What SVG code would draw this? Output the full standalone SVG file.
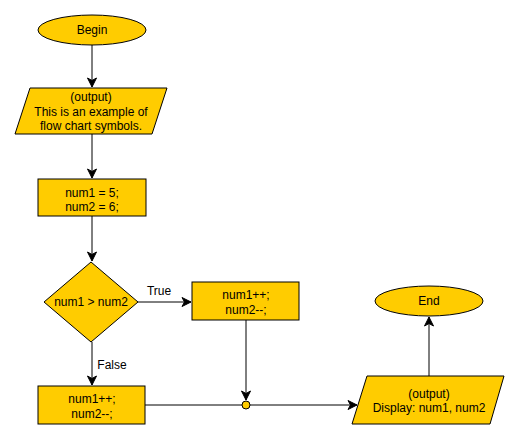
<svg xmlns="http://www.w3.org/2000/svg" width="520" height="440" viewBox="0 0 520 440">
<defs>
<marker id="arr" markerWidth="12" markerHeight="12" refX="10" refY="6" orient="auto" markerUnits="userSpaceOnUse">
<path d="M1,1.5 L10,6 L1,10.5 L3.5,6 Z" fill="#000" stroke="#000" stroke-width="1"/>
</marker>
</defs>
<style>
.s{fill:#ffcc00;stroke:#000;stroke-width:1}
.t{font-family:"Liberation Sans",Arial,sans-serif;font-size:12px;fill:#000;text-anchor:middle}
.c{fill:none;stroke:#000;stroke-width:1}
</style>
<rect width="520" height="440" fill="#fff"/>
<g id="connectors">
<path class="c" d="M92,45 V87" marker-end="url(#arr)"/>
<path class="c" d="M92,134 V178" marker-end="url(#arr)"/>
<path class="c" d="M92,216 V261" marker-end="url(#arr)"/>
<path class="c" d="M138,302 H191" marker-end="url(#arr)"/>
<path class="c" d="M92,342 V385" marker-end="url(#arr)"/>
<path class="c" d="M246,320 V400" marker-end="url(#arr)"/>
<path class="c" d="M145,405 H242"/>
<path class="c" d="M250,405 H357" marker-end="url(#arr)"/>
<path class="c" d="M429,376 V317" marker-end="url(#arr)"/>
<text class="t" x="159" y="295">True</text>
<text class="t" x="112" y="369">False</text>
</g>
<g id="begin">
<ellipse class="s" cx="92" cy="30" rx="54" ry="15"/>
<text class="t" x="92" y="34">Begin</text>
</g>
<g id="output1">
<polygon class="s" points="30,88 167,88 152,134 15,134"/>
<text class="t" x="91" y="101">(output)</text>
<text class="t" x="91" y="116">This is an example of</text>
<text class="t" x="91" y="130">flow chart symbols.</text>
</g>
<g id="init">
<rect class="s" x="38" y="179" width="108" height="37"/>
<text class="t" x="92" y="197">num1 = 5;</text>
<text class="t" x="92" y="211">num2 = 6;</text>
</g>
<g id="decision">
<polygon class="s" points="91,262 138,302 91,342 44,302"/>
<text class="t" x="91" y="306">num1 &gt; num2</text>
</g>
<g id="trueStep">
<rect class="s" x="192" y="282" width="107" height="38"/>
<text class="t" x="246" y="299">num1++;</text>
<text class="t" x="246" y="314">num2--;</text>
</g>
<g id="falseStep">
<rect class="s" x="38" y="386" width="107" height="38"/>
<text class="t" x="92" y="403">num1++;</text>
<text class="t" x="92" y="418">num2--;</text>
</g>
<g id="junction">
<circle class="s" cx="246" cy="405" r="4"/>
</g>
<g id="output2">
<polygon class="s" points="367,376 504,376 490,424 352,424"/>
<text class="t" x="429" y="398">(output)</text>
<text class="t" x="429" y="412">Display: num1, num2</text>
</g>
<g id="end">
<ellipse class="s" cx="429" cy="301" rx="54" ry="15"/>
<text class="t" x="429" y="305">End</text>
</g>
</svg>
